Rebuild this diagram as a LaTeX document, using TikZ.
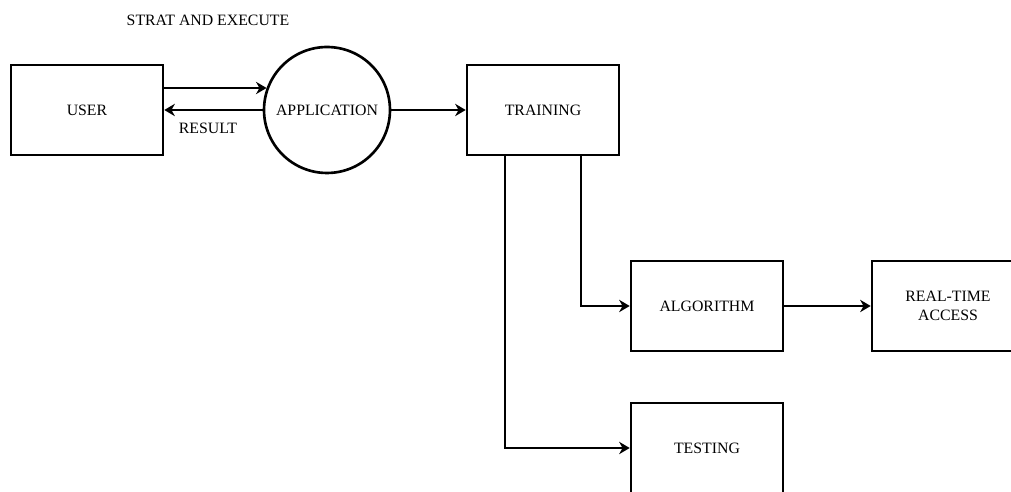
\documentclass[tikz,border=0pt]{standalone}
\usepackage{fontspec}
\setmainfont{Liberation Serif}
\usetikzlibrary{arrows.meta}
\tikzset{
  blk/.style={draw,line width=1.5pt,minimum width=3.04cm,minimum height=1.8cm,align=center,font=\fontsize{9}{10.5}\selectfont},
  txt/.style={font=\fontsize{9}{10.5}\selectfont},
}
\begin{document}
\begin{tikzpicture}[x=0.02cm,y=-0.02cm,>={Stealth[length=6pt,width=7pt]},line width=1.5pt]
   \useasboundingbox (0,0) rectangle (1011,492);
   \clip (0,0) rectangle (1011,492);

   % ブロック
   \node [blk] (user) at (87,110) {USER};
   \node [circle,draw,line width=1.5pt,minimum size=2.52cm,inner sep=0pt,txt] (app) at (327,110) {APPLICATION};
   \node [blk] (train) at (543,110) {TRAINING};
   \node [blk] (algo) at (707,306) {ALGORITHM};
   \node [blk] (rt) at (948,306) {REAL-TIME\\ACCESS};
   \node [blk] (test) at (707,448) {TESTING};

   % ラベル
   \node [txt] (exec) at (208,20) {STRAT AND EXECUTE};
   \node [txt] (res) at (208,128) {RESULT};

   % 矢印
   \draw[->] (user.east |- app.160) -- (app.160);
   \draw[->] (app.west) -- (user.east);
   \draw[->] (app.east) -- (train.west);
   \draw[->] ([xshift=0.76cm]train.south) |- (algo.west);
   \draw[->] ([xshift=-0.76cm]train.south) |- (test.west);
   \draw[->] (algo.east) -- (rt.west);

\end{tikzpicture}
\end{document}
